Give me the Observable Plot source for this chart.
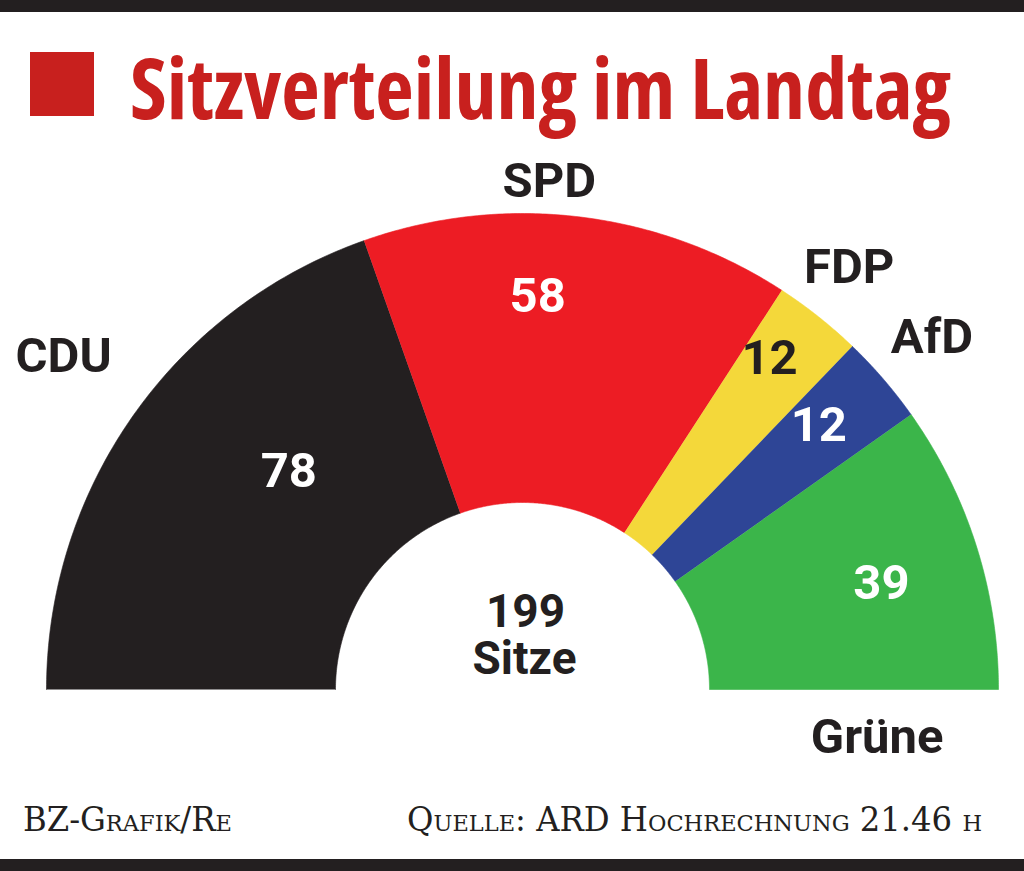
<!DOCTYPE html>
<html><head><meta charset="utf-8">
<script src="https://cdn.jsdelivr.net/npm/d3@7"></script>
<script src="https://cdn.jsdelivr.net/npm/@observablehq/plot@0.6"></script>
<style>
html,body{margin:0;padding:0;background:#fff;}
#page{position:relative;width:1024px;height:871px;overflow:hidden;background:#fff;}
.bar{position:absolute;left:0;width:1024px;background:#231f20;}
#topbar{top:0;height:12px}
#bottombar{top:859px;height:12px}
#square{position:absolute;left:30px;top:52px;width:64px;height:64px;background:#c8201e}
#title{position:absolute;left:0;top:0}
#chart{position:absolute;left:0;top:150px}
#footer{position:absolute;left:0;top:780px}
#title text{font-family:"Open Sans","Liberation Sans Narrow",sans-serif;font-weight:700;font-size:84px;font-stretch:condensed;fill:#c8201e}
#footer text{font-family:"DejaVu Serif","Liberation Serif",serif;font-size:33px;font-variant:small-caps;font-stretch:condensed;fill:#231f20}
</style></head><body>
<div id="page">
  <div class="bar" id="topbar"></div>
  <div id="square"></div>
  <svg id="title" width="1024" height="150"><text id="titleText" x="130" y="119" textLength="821" lengthAdjust="spacingAndGlyphs"></text></svg>
  <div id="chart"></div>
  <svg id="footer" width="1024" height="79">
    <text id="credit" x="23" y="51" textLength="209" lengthAdjust="spacingAndGlyphs"></text>
    <text id="source" x="407" y="51" textLength="575" lengthAdjust="spacingAndGlyphs"></text>
  </svg>
  <div class="bar" id="bottombar"></div>
</div>
<script>
// ---- data ----
const parties = ["CDU", "SPD", "FDP", "AfD", "Grüne"];
const seats = [78, 58, 12, 12, 39];
const centerWord = "Sitze";
const titleText = "Sitzverteilung im Landtag";
const creditText = "BZ-Grafik/Re";
const sourceText = "Quelle: ARD Hochrechnung 21.46 h";

// ---- styles / layout ----
const partyColors = ["#231f20", "#ed1c24", "#f4d83a", "#2e4596", "#3bb54a"];
const valueInk = ["#ffffff", "#ffffff", "#231f20", "#ffffff", "#ffffff"];
const R_OUT = 476, R_IN = 187, R_VALUE = 331.5, R_NAME = 540;
const valueNudge = {CDU: [37, -27], SPD: [-24, -64], FDP: [41, -72], AfD: [45, -48], "Grüne": [43, -6]};
const nameNudge = {CDU: [-18, -21], SPD: [-37, 28], FDP: [-9, 1], AfD: [0, 0], "Grüne": [-160, 211]};
const FONT = "Roboto, 'Liberation Sans', sans-serif";

document.getElementById("titleText").textContent = titleText;
document.getElementById("credit").textContent = creditText;
document.getElementById("source").textContent = sourceText;

const total = d3.sum(seats);
let acc = 0;
const rows = parties.map((p, i) => {
  const a0 = acc / total * Math.PI;
  acc += seats[i];
  const a1 = acc / total * Math.PI;
  return {party: p, seats: seats[i], i, a0, a1, mid: (a0 + a1) / 2};
});

// polygon outline of each ring segment (angle measured from the left end)
const pts = [];
for (const r of rows) {
  const N = 120;
  for (let k = 0; k <= N; k++) {
    const a = r.a0 + (r.a1 - r.a0) * k / N;
    pts.push({party: r.party, x: -R_OUT * Math.cos(a), y: R_OUT * Math.sin(a)});
  }
  for (let k = N; k >= 0; k--) {
    const a = r.a0 + (r.a1 - r.a0) * k / N;
    pts.push({party: r.party, x: -R_IN * Math.cos(a), y: R_IN * Math.sin(a)});
  }
}

const vx = d => -R_VALUE * Math.cos(d.mid) + valueNudge[d.party][0];
const vy = d => R_VALUE * Math.sin(d.mid) - valueNudge[d.party][1];
const nx = d => -R_NAME * Math.cos(d.mid) + nameNudge[d.party][0];
const ny = d => R_NAME * Math.sin(d.mid) - nameNudge[d.party][1];

const chart = Plot.plot({
  width: 1024,
  height: 630,
  margin: 0,
  x: {domain: [-522, 502], axis: null},
  y: {domain: [-91, 539], axis: null},
  color: {domain: parties, range: partyColors},
  style: {background: "transparent", overflow: "visible"},
  marks: [
    Plot.line(pts, {x: "x", y: "y", z: "party", fill: "party", stroke: "party", strokeWidth: 0.6}),
    Plot.text(rows.filter(d => valueInk[d.i] === "#ffffff"), {x: vx, y: vy, text: d => String(d.seats), fill: "#ffffff", fontSize: 49, fontWeight: 700, fontFamily: FONT}),
    Plot.text(rows.filter(d => valueInk[d.i] !== "#ffffff"), {x: vx, y: vy, text: d => String(d.seats), fill: "#231f20", fontSize: 49, fontWeight: 700, fontFamily: FONT}),
    Plot.text(rows, {x: nx, y: ny, text: "party", fill: "#231f20", fontSize: 49, fontWeight: 700, fontFamily: FONT}),
    Plot.text([String(total)], {x: () => 0, y: () => 0, text: d => d, dx: 3, dy: -77, fill: "#231f20", fontSize: 46, fontWeight: 700, fontFamily: FONT}),
    Plot.text([centerWord], {x: () => 0, y: () => 0, text: d => d, dx: 2, dy: -30, fill: "#231f20", fontSize: 46, fontWeight: 700, fontFamily: FONT})
  ]
});
document.getElementById("chart").appendChild(chart);
</script>
</body></html>
